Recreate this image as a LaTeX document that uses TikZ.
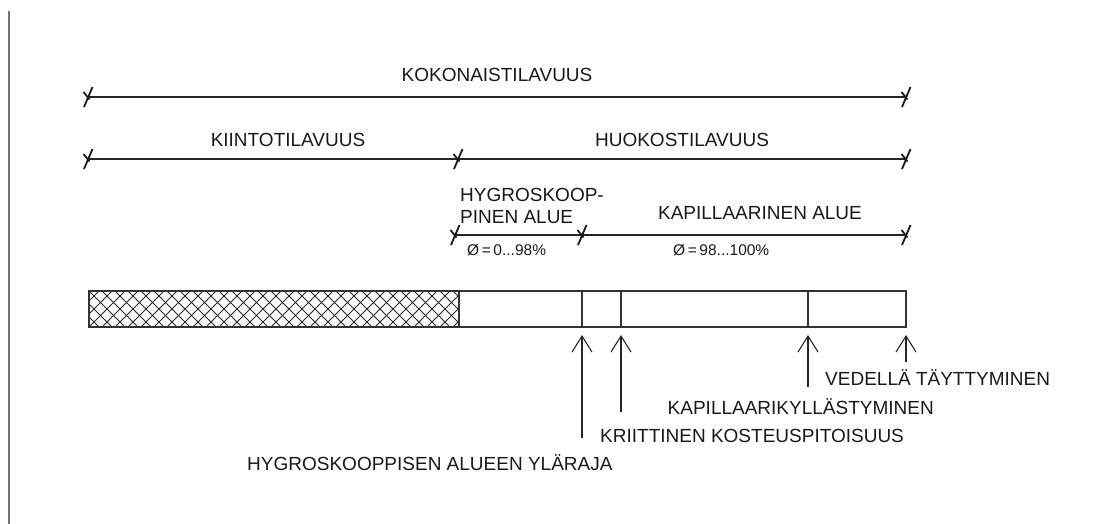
\documentclass[tikz,border=0pt]{standalone}
\usepackage{fontspec}
\setmainfont{Liberation Sans}
\usetikzlibrary{arrows.meta,calc}
\begin{document}
\begin{tikzpicture}[x=1pt,y=-1pt,
  dimline/.style={line width=1.1pt,draw=black!85},
  tickmark/.style={line width=1.8pt,draw=black!90},
  lbl/.style={font=\fontsize{19}{22}\selectfont,inner sep=0pt,text=black!90},
  small/.style={font=\fontsize{15.5}{17}\selectfont,inner sep=0pt,text=black!90},
  barline/.style={line width=1.3pt,draw=black!80},
  hatchline/.style={line width=0.9pt,draw=black!85},
  ptr/.style={line width=1.1pt,draw=black!85,-{Straight Barb[length=16pt,width=20pt,line width=1.1pt]}}]
\useasboundingbox (0,0) rectangle (1109,524);
% left border line
\coordinate (lt) at (9,11);
\coordinate (lb) at (9,524);
\draw[line width=1.4pt,black!55] (lt) -- (lb);

\newcommand{\tk}[1]{\draw[tickmark] ($(#1)+(-4,10)$) -- ($(#1)+(4.5,-10)$);
  \draw[tickmark] ($(#1)+(-4.5,-5)$) -- ($(#1)+(1.5,2.5)$);}

% dimension line 1
\coordinate (a1) at (88,97);
\coordinate (a2) at (906,97);
\draw[dimline] (a1) -- (a2);
\tk{a1}\tk{a2}
\node[lbl] (kok) at (497,75) {KOKONAISTILAVUUS};

% dimension line 2
\coordinate (b1) at (88,159);
\coordinate (b2) at (458,159);
\coordinate (b3) at (906,159);
\draw[dimline] (b1) -- (b3);
\tk{b1}\tk{b2}\tk{b3}
\node[lbl] (kiin) at (288,140) {KIINTOTILAVUUS};
\node[lbl] (huok) at (682,140) {HUOKOSTILAVUUS};

% dimension line 3
\coordinate (c1) at (455,235);
\coordinate (c2) at (582,235);
\coordinate (c3) at (906,235);
\draw[dimline] (c1) -- (c3);
\tk{c1}\tk{c2}\tk{c3}
\node[lbl,anchor=west,align=left] (hyg) at (460,206) {HYGROSKOOP-\\PINEN ALUE};
\node[lbl] (kap) at (760,213) {KAPILLAARINEN ALUE};
\node[small,anchor=west] (phi1) at (467,250) {Ø\,=\,0...98\%};
\node[small,anchor=west] (phi2) at (673,250) {Ø\,=\,98...100\%};

% bar
\coordinate (bartl) at (89,291);
\coordinate (barbr) at (906,327);
\coordinate (hatchr) at (459,327);
\begin{scope}
  \clip (89,291) rectangle (459,327);
  \foreach \c in {50,63,...,480}{
    \draw[hatchline] (\c,291) -- (\c+36,327);
    \draw[hatchline] (\c,327) -- (\c+36,291);
  }
\end{scope}
\draw[barline] (bartl) rectangle (barbr);
\draw[barline] (459,291) -- (hatchr);
% dividers
\coordinate (d1t) at (582,291); \coordinate (d1) at (582,327);
\coordinate (d2t) at (621,291); \coordinate (d2) at (621,327);
\coordinate (d3t) at (808,291); \coordinate (d3) at (808,327);
\coordinate (d4) at (906,327);
\draw[barline] (d1t) -- (d1);
\draw[barline] (d2t) -- (d2);
\draw[barline] (d3t) -- (d3);

% arrows
\coordinate (p1t) at (582,335); \coordinate (p1b) at (582,438);
\coordinate (p2t) at (621,335); \coordinate (p2b) at (621,412);
\coordinate (p3t) at (808,335); \coordinate (p3b) at (808,387);
\coordinate (p4t) at (906,335); \coordinate (p4b) at (906,362);
\draw[ptr] (p1b) -- (p1t);
\draw[ptr] (p2b) -- (p2t);
\draw[ptr] (p3b) -- (p3t);
\draw[ptr] (p4b) -- (p4t);

% labels
\node[lbl,anchor=west] (ved) at (825,378) {VEDELLÄ TÄYTTYMINEN};
\node[lbl,anchor=east] (kyl) at (934,407) {KAPILLAARIKYLLÄSTYMINEN};
\node[lbl,anchor=west] (kri) at (600,436) {KRIITTINEN KOSTEUSPITOISUUS};
\node[lbl,anchor=west] (yla) at (247,463) {HYGROSKOOPPISEN ALUEEN YLÄRAJA};
\end{tikzpicture}
\end{document}
